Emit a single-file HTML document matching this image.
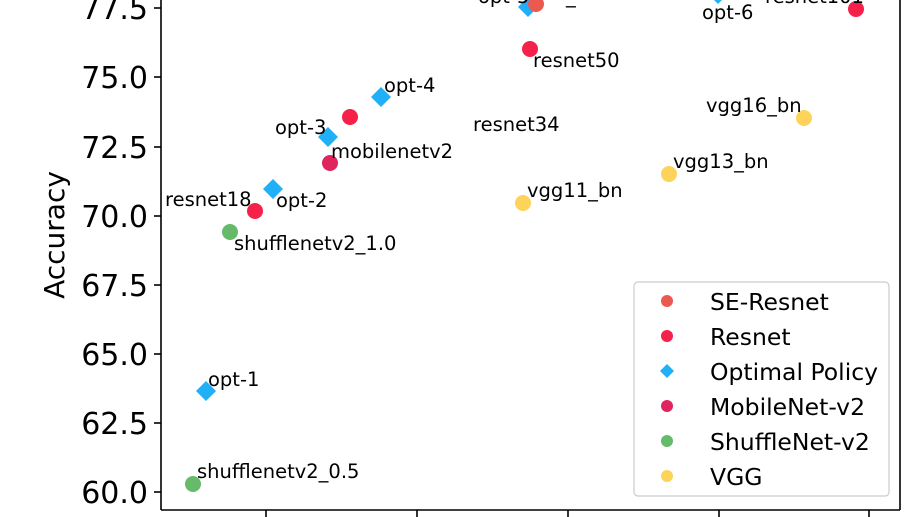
<!DOCTYPE html>
<html><head><meta charset="utf-8"><style>
html,body{margin:0;padding:0;background:#fff;width:918px;height:517px;overflow:hidden}
text{font-family:"DejaVu Sans","Liberation Sans",sans-serif;fill:#000}
</style></head><body>
<svg width="918" height="517" viewBox="0 0 918 517" xmlns="http://www.w3.org/2000/svg">
<defs>
<path id="d" d="M0,-10 L10,0 L0,10 L-10,0Z" fill="#1fb0f7"/>
</defs>
<line x1="161" y1="0" x2="161" y2="510" stroke="#000" stroke-width="1.6"/>
<line x1="900" y1="0" x2="900" y2="510" stroke="#000" stroke-width="1.6"/>
<line x1="161" y1="510" x2="900" y2="510" stroke="#000" stroke-width="1.6"/>
<g stroke="#000" stroke-width="1.6">
<line x1="154" y1="8" x2="161" y2="8"/><line x1="154" y1="77" x2="161" y2="77"/>
<line x1="154" y1="147" x2="161" y2="147"/><line x1="154" y1="216" x2="161" y2="216"/>
<line x1="154" y1="285" x2="161" y2="285"/><line x1="154" y1="354" x2="161" y2="354"/>
<line x1="154" y1="423" x2="161" y2="423"/><line x1="154" y1="492" x2="161" y2="492"/>
<line x1="266" y1="510" x2="266" y2="517"/><line x1="417" y1="510" x2="417" y2="517"/>
<line x1="568" y1="510" x2="568" y2="517"/><line x1="719" y1="510" x2="719" y2="517"/>
<line x1="869" y1="510" x2="869" y2="517"/>
</g>
<g font-size="30" text-anchor="end">
<text x="148" y="19">77.5</text><text x="148" y="88">75.0</text>
<text x="148" y="158">72.5</text><text x="148" y="227">70.0</text>
<text x="148" y="296">67.5</text><text x="148" y="365">65.0</text>
<text x="148" y="434">62.5</text><text x="148" y="503">60.0</text>
</g>
<text font-size="28" transform="translate(64,235) rotate(-90)" text-anchor="middle">Accuracy</text>
<use href="#d" x="528" y="7"/>
<circle cx="536" cy="4" r="8" fill="#ea5a4f"/>
<use href="#d" x="718" y="-6"/>
<circle cx="856" cy="9" r="8" fill="#f6214a"/>
<circle cx="530" cy="49" r="8" fill="#f6214a"/>
<circle cx="804" cy="118" r="8" fill="#fdd35a"/>
<circle cx="669" cy="174" r="8" fill="#fdd35a"/>
<circle cx="523" cy="203" r="8" fill="#fdd35a"/>
<use href="#d" x="381" y="97"/>
<circle cx="350" cy="117" r="8" fill="#f6214a"/>
<use href="#d" x="328" y="137"/>
<circle cx="330" cy="163" r="8" fill="#e0245e"/>
<use href="#d" x="273" y="189"/>
<circle cx="255" cy="211" r="8" fill="#f6214a"/>
<circle cx="230" cy="232" r="8" fill="#66bb6a"/>
<use href="#d" x="206" y="391"/>
<circle cx="193" cy="484" r="8" fill="#66bb6a"/>
<g font-size="19.5">
<text x="478" y="3">opt-5</text>
<text x="566" y="3">_</text>
<text x="702" y="19">opt-6</text>
<text x="765" y="3">resnet101</text>
<text x="533" y="67">resnet50</text>
<text x="473" y="131">resnet34</text>
<text x="706" y="112">vgg16_bn</text>
<text x="673" y="168">vgg13_bn</text>
<text x="527" y="197">vgg11_bn</text>
<text x="384" y="92">opt-4</text>
<text x="275" y="134">opt-3</text>
<text x="331" y="158">mobilenetv2</text>
<text x="276" y="207">opt-2</text>
<text x="165" y="206">resnet18</text>
<text x="234" y="250">shufflenetv2_1.0</text>
<text x="208" y="386">opt-1</text>
<text x="197" y="478">shufflenetv2_0.5</text>
</g>
<rect x="634" y="282" width="255" height="214" rx="4" fill="#fff" stroke="#ccc" stroke-width="1.2"/>
<circle cx="667" cy="301" r="6" fill="#ea5a4f"/>
<circle cx="667" cy="336" r="6" fill="#f6214a"/>
<path d="M667,364 L674,371 L667,378 L660,371Z" fill="#1fb0f7"/>
<circle cx="667" cy="406" r="6" fill="#e0245e"/>
<circle cx="667" cy="441" r="6" fill="#66bb6a"/>
<circle cx="667" cy="476" r="6" fill="#fdd35a"/>
<g font-size="23.5">
<text x="710" y="310">SE-Resnet</text>
<text x="710" y="345">Resnet</text>
<text x="710" y="380">Optimal Policy</text>
<text x="710" y="415">MobileNet-v2</text>
<text x="710" y="450">ShuffleNet-v2</text>
<text x="710" y="485">VGG</text>
</g>
</svg>
</body></html>
